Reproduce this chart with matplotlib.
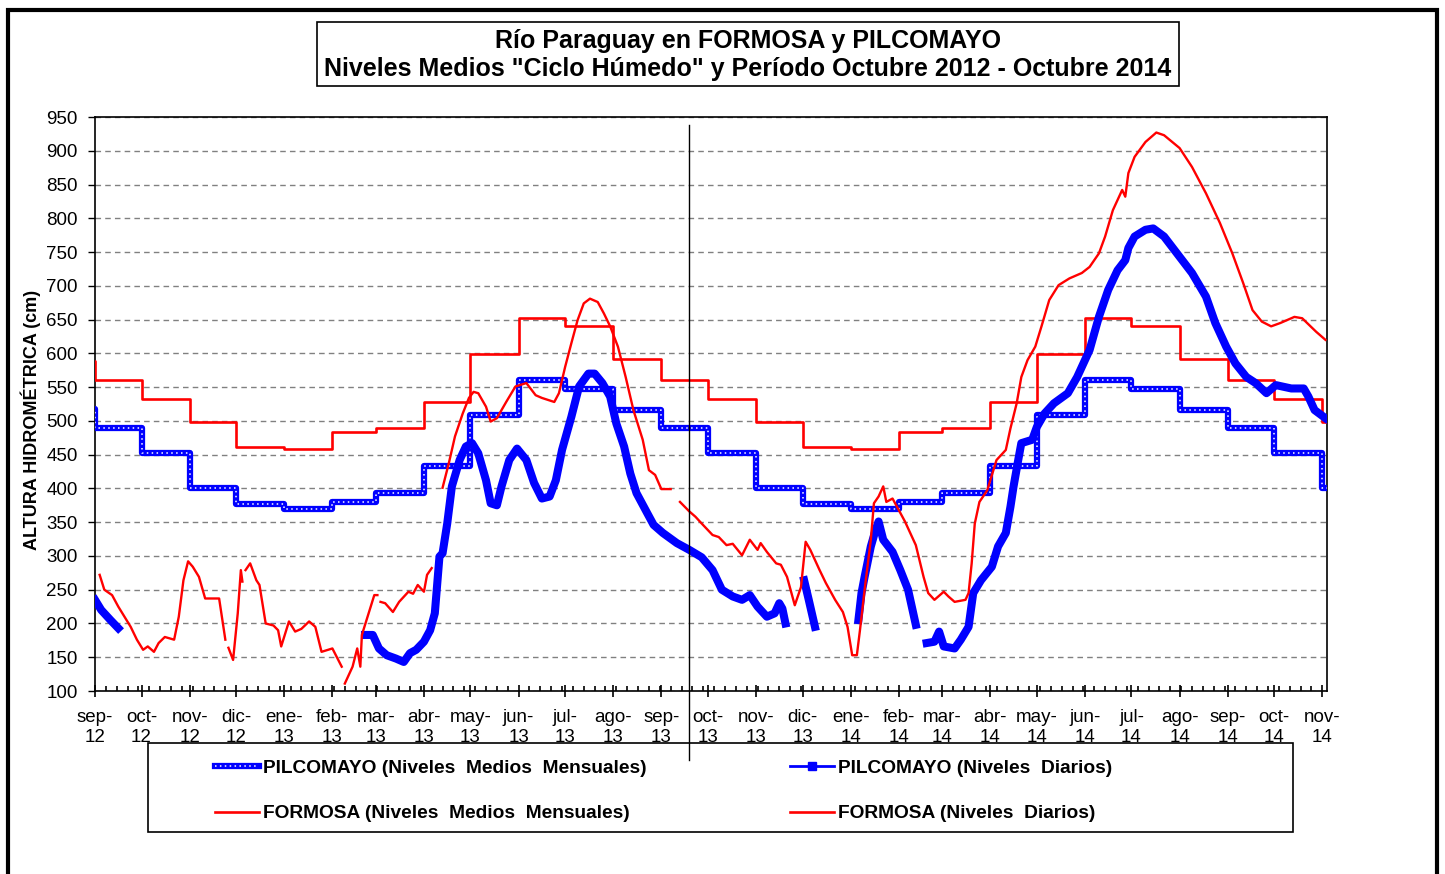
import numpy as np
import pandas as pd
import matplotlib
matplotlib.use('Agg')
import matplotlib.pyplot as plt
import matplotlib.dates as mdates
from matplotlib.lines import Line2D
from matplotlib.patches import Rectangle
from matplotlib.legend_handler import HandlerTuple

nan = np.nan

# meses en castellano (ene..dic)
meses = ['ene', 'feb', 'mar', 'abr', 'may', 'jun', 'jul', 'ago', 'sep', 'oct', 'nov', 'dic']

# niveles medios mensuales "ciclo humedo" (cm), ene..dic
formosa_media = [458, 484, 490, 528, 599, 652, 640, 592, 560, 532, 499, 462]
pilco_media = [369, 380, 393, 433, 508, 561, 547, 516, 489, 452, 401, 377]
formosa_inicio = 588
pilco_inicio = 517

# niveles diarios FORMOSA (cm)
formosa_fechas = [
    '2012-09-04', '2012-09-07', '2012-09-12', '2012-09-16', '2012-09-20', '2012-09-24', '2012-09-28',
    '2012-10-02', '2012-10-05', '2012-10-09', '2012-10-12', '2012-10-16', '2012-10-22', '2012-10-25',
    '2012-10-28', '2012-10-31', '2012-11-03', '2012-11-07', '2012-11-11', '2012-11-20', '2012-11-24',
    '2012-11-25', '2012-11-26', '2012-11-29', '2012-12-02', '2012-12-04', '2012-12-05', '2012-12-06',
    '2012-12-07', '2012-12-10', '2012-12-14', '2012-12-16', '2012-12-20', '2012-12-25', '2012-12-28',
    '2012-12-30', '2013-01-04', '2013-01-08', '2013-01-12', '2013-01-17', '2013-01-21', '2013-01-25',
    '2013-02-01', '2013-02-07', '2013-02-08', '2013-02-09', '2013-02-14', '2013-02-17', '2013-02-19',
    '2013-02-20', '2013-02-25', '2013-02-28', '2013-03-02', '2013-03-03', '2013-03-04', '2013-03-07',
    '2013-03-12', '2013-03-16', '2013-03-22', '2013-03-25', '2013-03-28', '2013-04-01', '2013-04-03',
    '2013-04-06', '2013-04-07', '2013-04-13', '2013-04-17', '2013-04-21', '2013-04-26', '2013-04-30',
    '2013-05-03', '2013-05-06', '2013-05-11', '2013-05-14', '2013-05-18', '2013-05-24', '2013-05-30',
    '2013-06-06', '2013-06-12', '2013-06-16', '2013-06-24', '2013-06-27', '2013-07-01', '2013-07-05',
    '2013-07-09', '2013-07-13', '2013-07-17', '2013-07-22', '2013-07-26', '2013-07-30', '2013-08-04',
    '2013-08-09', '2013-08-14', '2013-08-20', '2013-08-24', '2013-08-28', '2013-09-01', '2013-09-07',
    '2013-09-08', '2013-09-13', '2013-09-19', '2013-09-23', '2013-09-27', '2013-10-04', '2013-10-08',
    '2013-10-13', '2013-10-17', '2013-10-23', '2013-10-28', '2013-11-02', '2013-11-04', '2013-11-08',
    '2013-11-14', '2013-11-17', '2013-11-21', '2013-11-26', '2013-11-30', '2013-12-03', '2013-12-06',
    '2013-12-12', '2013-12-16', '2013-12-22', '2013-12-27', '2013-12-30', '2014-01-02', '2014-01-05',
    '2014-01-07', '2014-01-10', '2014-01-14', '2014-01-16', '2014-01-19', '2014-01-22', '2014-01-24',
    '2014-01-28', '2014-02-01', '2014-02-05', '2014-02-12', '2014-02-17', '2014-02-20', '2014-02-24',
    '2014-03-02', '2014-03-05', '2014-03-09', '2014-03-16', '2014-03-18', '2014-03-20', '2014-03-22',
    '2014-03-25', '2014-03-30', '2014-04-05', '2014-04-11', '2014-04-14', '2014-04-18', '2014-04-21',
    '2014-04-25', '2014-04-30', '2014-05-04', '2014-05-09', '2014-05-15', '2014-05-22', '2014-05-30',
    '2014-06-04', '2014-06-10', '2014-06-14', '2014-06-19', '2014-06-25', '2014-06-27', '2014-06-29',
    '2014-07-03', '2014-07-10', '2014-07-17', '2014-07-22', '2014-08-01', '2014-08-09', '2014-08-18',
    '2014-08-27', '2014-09-04', '2014-09-11', '2014-09-17', '2014-09-23', '2014-09-29', '2014-10-05',
    '2014-10-14', '2014-10-19', '2014-10-28', '2014-11-03',
]
formosa_diario = [
    272, 250, 242, 225, 210, 195, 176,
    161, 166, 158, 171, 180, 176, 210,
    264, 292, 284, 269, 237, 237, 176,
    nan, 164, 146, 215, 279, 262, nan,
    279, 289, 264, 257, 200, 197, 190,
    166, 203, 188, 192, 203, 195, 158,
    163, 136, nan, 111, 136, 163, 136,
    183, 220, 242, 242, nan, 232, 230,
    217, 232, 247, 244, 257, 247, 272,
    282, nan, 401, 437, 477, 511, 534,
    543, 541, 521, 499, 504, 528, 551,
    556, 538, 534, 528, 541, 580, 615,
    649, 674, 681, 676, 659, 640, 610,
    565, 516, 472, 427, 420, 399, 399,
    nan, 380, 366, 358, 348, 331, 328,
    316, 318, 301, 324, 309, 319, 306,
    289, 287, 269, 227, 254, 321, 309,
    279, 260, 235, 217, 195, 153, 153,
    190, 250, 324, 378, 388, 403, 380,
    385, 368, 351, 316, 269, 245, 235,
    247, 240, 232, 235, 245, 289, 348,
    380, 397, 442, 457, 489, 526, 565,
    590, 610, 640, 679, 701, 711, 719,
    728, 748, 773, 812, 842, 832, 867,
    891, 913, 927, 923, 904, 876, 837,
    793, 748, 704, 664, 647, 640, 645,
    654, 652, 632, 620,
]

# niveles diarios PILCOMAYO (cm)
pilco_fechas = [
    '2012-09-01', '2012-09-05', '2012-09-11', '2012-09-16', '2012-09-17',
    '2013-02-22', '2013-02-27', '2013-03-03', '2013-03-08', '2013-03-14', '2013-03-19', '2013-03-23',
    '2013-03-27', '2013-04-01', '2013-04-05', '2013-04-08', '2013-04-11', '2013-04-13', '2013-04-16',
    '2013-04-19', '2013-04-24', '2013-04-28', '2013-05-02', '2013-05-06', '2013-05-11', '2013-05-14',
    '2013-05-18', '2013-05-21', '2013-05-26', '2013-05-31', '2013-06-06', '2013-06-11', '2013-06-16',
    '2013-06-21', '2013-06-25', '2013-06-29', '2013-07-05', '2013-07-10', '2013-07-16', '2013-07-20',
    '2013-07-25', '2013-07-30', '2013-08-03', '2013-08-08', '2013-08-12', '2013-08-16', '2013-08-23',
    '2013-08-27', '2013-09-02', '2013-09-11', '2013-09-19', '2013-09-27', '2013-10-04', '2013-10-10',
    '2013-10-17', '2013-10-23', '2013-10-28', '2013-11-02', '2013-11-08', '2013-11-13', '2013-11-16',
    '2013-11-18', '2013-11-20', '2013-11-21', '2013-12-02', '2013-12-05', '2013-12-09', '2013-12-10',
    '2014-01-06', '2014-01-08', '2014-01-10', '2014-01-14', '2014-01-17', '2014-01-19', '2014-01-22',
    '2014-01-28', '2014-02-02', '2014-02-07', '2014-02-12', '2014-02-13', '2014-02-19', '2014-02-24',
    '2014-02-27', '2014-03-02', '2014-03-09', '2014-03-13', '2014-03-18', '2014-03-21', '2014-03-26',
    '2014-04-02', '2014-04-06', '2014-04-11', '2014-04-14', '2014-04-16', '2014-04-19', '2014-04-21',
    '2014-04-28', '2014-05-01', '2014-05-06', '2014-05-12', '2014-05-21', '2014-05-27', '2014-06-04',
    '2014-06-10', '2014-06-16', '2014-06-22', '2014-06-27', '2014-06-29', '2014-07-03', '2014-07-10',
    '2014-07-15', '2014-07-22', '2014-08-01', '2014-08-09', '2014-08-18', '2014-08-24', '2014-08-31',
    '2014-09-06', '2014-09-13', '2014-09-19', '2014-09-26', '2014-10-02', '2014-10-12', '2014-10-20',
    '2014-10-23', '2014-10-27', '2014-11-03',
]
pilco_diario = [
    235, 220, 205, 193, nan,
    183, 183, 163, 153, 148, 143, 156,
    161, 173, 190, 215, 299, 304, 348,
    403, 442, 462, 467, 452, 412, 378,
    375, 403, 442, 459, 442, 408, 385,
    388, 412, 457, 506, 551, 570, 570,
    556, 536, 496, 462, 422, 393, 363,
    346, 334, 319, 309, 298, 279, 250,
    240, 235, 242, 225, 210, 215, 230,
    222, 200, nan, 264, 235, 195, nan,
    205, 245, 269, 314, 338, 351, 324,
    306, 279, 250, 198, nan, 171, 173,
    188, 166, 163, 176, 195, 245, 264,
    284, 314, 334, 373, 403, 442, 467,
    472, 491, 511, 526, 541, 565, 605,
    654, 694, 723, 738, 756, 773, 783,
    785, 773, 743, 719, 684, 645, 610,
    585, 565, 556, 541, 553, 548, 548,
    536, 516, 504,
]

# serie escalonada de medias mensuales
inicio_mes = pd.date_range('2012-09-01', '2014-11-01', freq='MS')
x_media = [pd.Timestamp('2012-08-31')] + list(inicio_mes) + [pd.Timestamp('2014-11-05')]
formosa_escalon = [formosa_inicio] + [formosa_media[d.month - 1] for d in inicio_mes] + [formosa_media[10]]
pilco_escalon = [pilco_inicio] + [pilco_media[d.month - 1] for d in inicio_mes] + [pilco_media[10]]

plt.rcParams['font.family'] = ['Liberation Sans', 'DejaVu Sans']

W, H = 1445, 874
fig = plt.figure(figsize=(W / 100, H / 100), dpi=100)
ax = fig.add_axes([95 / W, 1 - 691 / H, (1327 - 95) / W, (691 - 117) / H])

azul = '#0000FF'
rojo = '#FF0000'

# medias mensuales
ax.plot(x_media, formosa_escalon, drawstyle='steps-post', color=rojo, lw=1.9, zorder=3)
ax.plot(x_media, pilco_escalon, drawstyle='steps-post', color=azul, lw=4.5, zorder=3)
ax.plot(x_media, pilco_escalon, drawstyle='steps-post', color='white', lw=1.1,
        linestyle=(0, (1, 2.2)), zorder=3)

# niveles diarios
ax.plot(pd.to_datetime(pilco_fechas), pilco_diario, color=azul, lw=5.8,
        solid_capstyle='projecting', solid_joinstyle='round', zorder=4)
ax.plot(pd.to_datetime(formosa_fechas), formosa_diario, color=rojo, lw=1.7, zorder=5)

ax.set_xlim(pd.Timestamp('2012-09-01'), pd.Timestamp('2014-11-04'))
ax.set_ylim(100, 950)
ax.set_yticks(range(100, 951, 50))
ax.yaxis.grid(True, linestyle=(0, (4, 3)), color='#808080', lw=1)
ax.set_axisbelow(True)

ax.xaxis.set_major_locator(mdates.MonthLocator())
ax.xaxis.set_major_formatter(plt.FuncFormatter(
    lambda v, p: '%s-\n%s' % (meses[mdates.num2date(v).month - 1], mdates.num2date(v).strftime('%y'))))
ax.set_xticks(pd.date_range('2012-09-01', '2014-11-04', freq='7D'), minor=True)
ax.tick_params(axis='x', which='major', direction='inout', length=8, width=1.2, labelsize=13.5, pad=9)
ax.tick_params(axis='x', which='minor', direction='in', length=3.5, width=1.2)
ax.tick_params(axis='y', which='major', direction='out', length=5, width=1, labelsize=13.5, pad=7.5)
for lab in ax.get_xticklabels():
    lab.set_linespacing(1.2)
for s in ax.spines.values():
    s.set_linewidth(1.2)
    s.set_color('black')

# linea vertical separadora
ax.axvline(pd.Timestamp('2013-09-19'), ymin=-0.12, ymax=0.986, color='black', lw=1,
           clip_on=False, zorder=6)

fig.text(31 / W, 1 - 420 / H, 'ALTURA HIDROMÉTRICA (cm)', rotation=90, ha='center', va='center',
         fontsize=13, fontweight='bold')

# titulo en recuadro
fig.patches.append(Rectangle((317 / W, 1 - 86 / H), (1179 - 317) / W, 64 / H, transform=fig.transFigure,
                             fill=False, edgecolor='black', lw=1.2))
fig.text(748 / W, 1 - 41 / H, 'Río Paraguay en FORMOSA y PILCOMAYO', ha='center', va='center',
         fontsize=18, fontweight='bold')
fig.text(748 / W, 1 - 69 / H, 'Niveles Medios "Ciclo Húmedo" y Período Octubre 2012 - Octubre 2014',
         ha='center', va='center', fontsize=18, fontweight='bold')

# marco exterior
fig.patches.append(Rectangle((8 / W, -0.05), (1437 - 8) / W, 1 - 10 / H + 0.05, transform=fig.transFigure,
                             fill=False, edgecolor='black', lw=3))

# leyenda
fig.patches.append(Rectangle((148 / W, 1 - 832 / H), (1293 - 148) / W, 89 / H, transform=fig.transFigure,
                             fill=False, edgecolor='black', lw=1.2))
h_pm = (Line2D([], [], color=azul, lw=4.5), Line2D([], [], color='white', lw=1.1, linestyle=(0, (1, 2.2))))
h_fm = Line2D([], [], color=rojo, lw=1.9)
h_pd = Line2D([], [], color=azul, lw=2, marker='s', markersize=6)
h_fd = Line2D([], [], color=rojo, lw=1.9)
ley = dict(frameon=False, prop={'size': 13.8, 'weight': 'bold'}, handlelength=2.3, handletextpad=0.2,
           labelspacing=1.45, borderpad=0, borderaxespad=0, loc='center left',
           handler_map={tuple: HandlerTuple(ndivide=1, pad=0)})
fig.legend([h_pm, h_fm], ['PILCOMAYO (Niveles  Medios  Mensuales)', 'FORMOSA (Niveles  Medios  Mensuales)'],
           bbox_to_anchor=(215 / W, 1 - 791 / H), **ley)
fig.legend([h_pd, h_fd], ['PILCOMAYO (Niveles  Diarios)', 'FORMOSA (Niveles  Diarios)'],
           bbox_to_anchor=(790 / W, 1 - 791 / H), **ley)

plt.savefig('out.png', dpi=100)
